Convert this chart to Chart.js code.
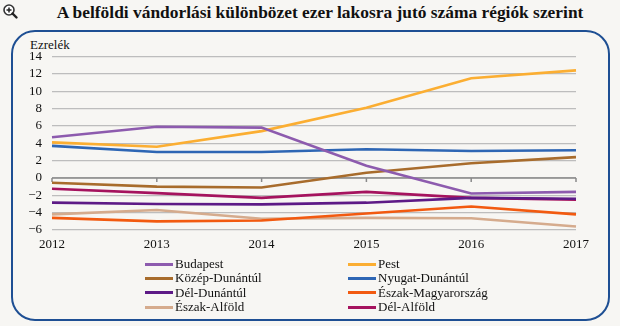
<!DOCTYPE html>
<html>
<head>
<meta charset="utf-8">
<script src="https://cdn.jsdelivr.net/npm/chart.js@4.4.1/dist/chart.umd.min.js"></script>
<style>
  html, body { margin: 0; padding: 0; background: #F7F6F3; }
  body { width: 620px; height: 326px; position: relative; overflow: hidden; font-family: 'Liberation Serif', 'Times New Roman', serif; color: #111; }
  #title { position: absolute; left: 0; width: 640px; top: 2px; text-align: center; font-weight: bold; font-size: 17.4px; }
  #frame { position: absolute; left: 11px; top: 30px; width: 595px; height: 287px; border: 2px solid #1E4F93; border-radius: 24px; }
  #unit { position: absolute; left: 30px; top: 37px; font-size: 13px; }
  #cwrap { position: absolute; left: 0; top: 0; width: 620px; height: 326px; }
  #legend { position: absolute; left: 145px; top: 257px; display: grid; grid-template-columns: 203px 200px; row-gap: 0; font-size: 13px; }
  .li { display: flex; align-items: center; height: 14.3px; white-space: nowrap; }
  .sw { width: 28px; height: 3px; margin-right: 2px; }
  #icon { position: absolute; left: 2px; top: 2px; }
</style>
</head>
<body>
<svg id="icon" width="18" height="18" viewBox="0 0 18 18">
  <circle cx="7" cy="8" r="5" fill="#fff" stroke="#333" stroke-width="1.6"/>
  <line x1="7" y1="5.5" x2="7" y2="10.5" stroke="#222" stroke-width="1.5"/>
  <line x1="4.5" y1="8" x2="9.5" y2="8" stroke="#222" stroke-width="1.5"/>
  <line x1="10.5" y1="11.5" x2="14.5" y2="15.5" stroke="#222" stroke-width="2.4" stroke-linecap="round"/>
</svg>
<div id="title">A belföldi vándorlási különbözet ezer lakosra jutó száma régiók szerint</div>
<div id="frame"></div>
<div id="unit">Ezrelék</div>
<div id="cwrap"><canvas id="c" width="620" height="326"></canvas></div>
<div id="legend"></div>
<script>
const years = ['2012', '2013', '2014', '2015', '2016', '2017'];
const yTicks = [-6, -4, -2, 0, 2, 4, 6, 8, 10, 12, 14];

const budapest          = [4.7, 5.9, 5.8, 1.4, -1.8, -1.6];
const pest              = [4.1, 3.6, 5.4, 8.1, 11.5, 12.4];
const kozepDunantul     = [-0.55, -1.0, -1.1, 0.6, 1.7, 2.4];
const nyugatDunantul    = [3.7, 3.0, 3.0, 3.3, 3.1, 3.2];
const delDunantul       = [-2.85, -3.0, -3.05, -2.85, -2.3, -2.4];
const eszakMagyarorszag = [-4.6, -5.0, -4.9, -4.1, -3.3, -4.2];
const eszakAlfold       = [-4.2, -3.7, -4.7, -4.6, -4.65, -5.6];
const delAlfold         = [-1.25, -1.75, -2.3, -1.6, -2.3, -2.5];

const series = [
  ['Budapest', budapest, '#8D5BAE'],
  ['Pest', pest, '#FBAE32'],
  ['Közép-Dunántúl', kozepDunantul, '#A86C2C'],
  ['Nyugat-Dunántúl', nyugatDunantul, '#2E66B4'],
  ['Dél-Dunántúl', delDunantul, '#5D1A86'],
  ['Észak-Magyarország', eszakMagyarorszag, '#F25A10'],
  ['Észak-Alföld', eszakAlfold, '#D5AB8D'],
  ['Dél-Alföld', delAlfold, '#A5135E']
];

const legend = document.getElementById('legend');
series.forEach(([name, , color]) => {
  const d = document.createElement('div');
  d.className = 'li';
  d.innerHTML = '<span class="sw" style="background:' + color + '"></span><span>' + name + '</span>';
  legend.appendChild(d);
});

const zeroAxis = {
  id: 'zeroAxis',
  beforeDatasetsDraw(chart) {
    const { ctx, scales: { x, y } } = chart;
    const y0 = y.getPixelForValue(0);
    ctx.save();
    ctx.strokeStyle = '#8A8A8A';
    ctx.lineWidth = 1.5;
    ctx.beginPath();
    ctx.moveTo(x.left, y0);
    ctx.lineTo(x.right, y0);
    for (let i = 0; i < years.length; i++) {
      const px = x.getPixelForValue(i);
      ctx.moveTo(px, y0);
      ctx.lineTo(px, y0 + 4);
    }
    ctx.stroke();
    ctx.restore();
  }
};

const serif = "'Liberation Serif', 'Times New Roman', serif";
Chart.defaults.font.family = serif;
Chart.defaults.color = '#111';

new Chart(document.getElementById('c'), {
  type: 'line',
  data: {
    labels: years,
    datasets: series.map(([name, values, color]) => ({
      label: name,
      data: values,
      borderColor: color,
      backgroundColor: color,
      borderWidth: 2.6,
      pointRadius: 0,
      tension: 0,
      fill: false
    }))
  },
  options: {
    responsive: false,
    animation: false,
    layout: { padding: { left: 0, right: 44, top: 56.5, bottom: 74 } },
    plugins: { legend: { display: false }, tooltip: { enabled: false }, title: { display: false } },
    scales: {
      x: {
        offset: false,
        grid: { display: false, drawTicks: false },
        border: { display: false },
        ticks: { font: { family: serif, size: 13 }, padding: 7, maxRotation: 0, autoSkip: false },
        afterFit(s) { s.height = 22; }
      },
      y: {
        min: -6, max: 14,
        afterBuildTicks(s) { s.ticks = yTicks.map(v => ({ value: v })); },
        grid: { color: '#BDBDBD', lineWidth: 1.3, drawTicks: false },
        border: { display: false },
        ticks: {
          autoSkip: false,
          font: { family: serif, size: 13 }, padding: 10,
          callback: v => (v < 0 ? '\u2212' + Math.abs(v) : String(v))
        },
        afterFit(s) { s.width = 52; }
      }
    }
  },
  plugins: [zeroAxis]
});
</script>
</body>
</html>
